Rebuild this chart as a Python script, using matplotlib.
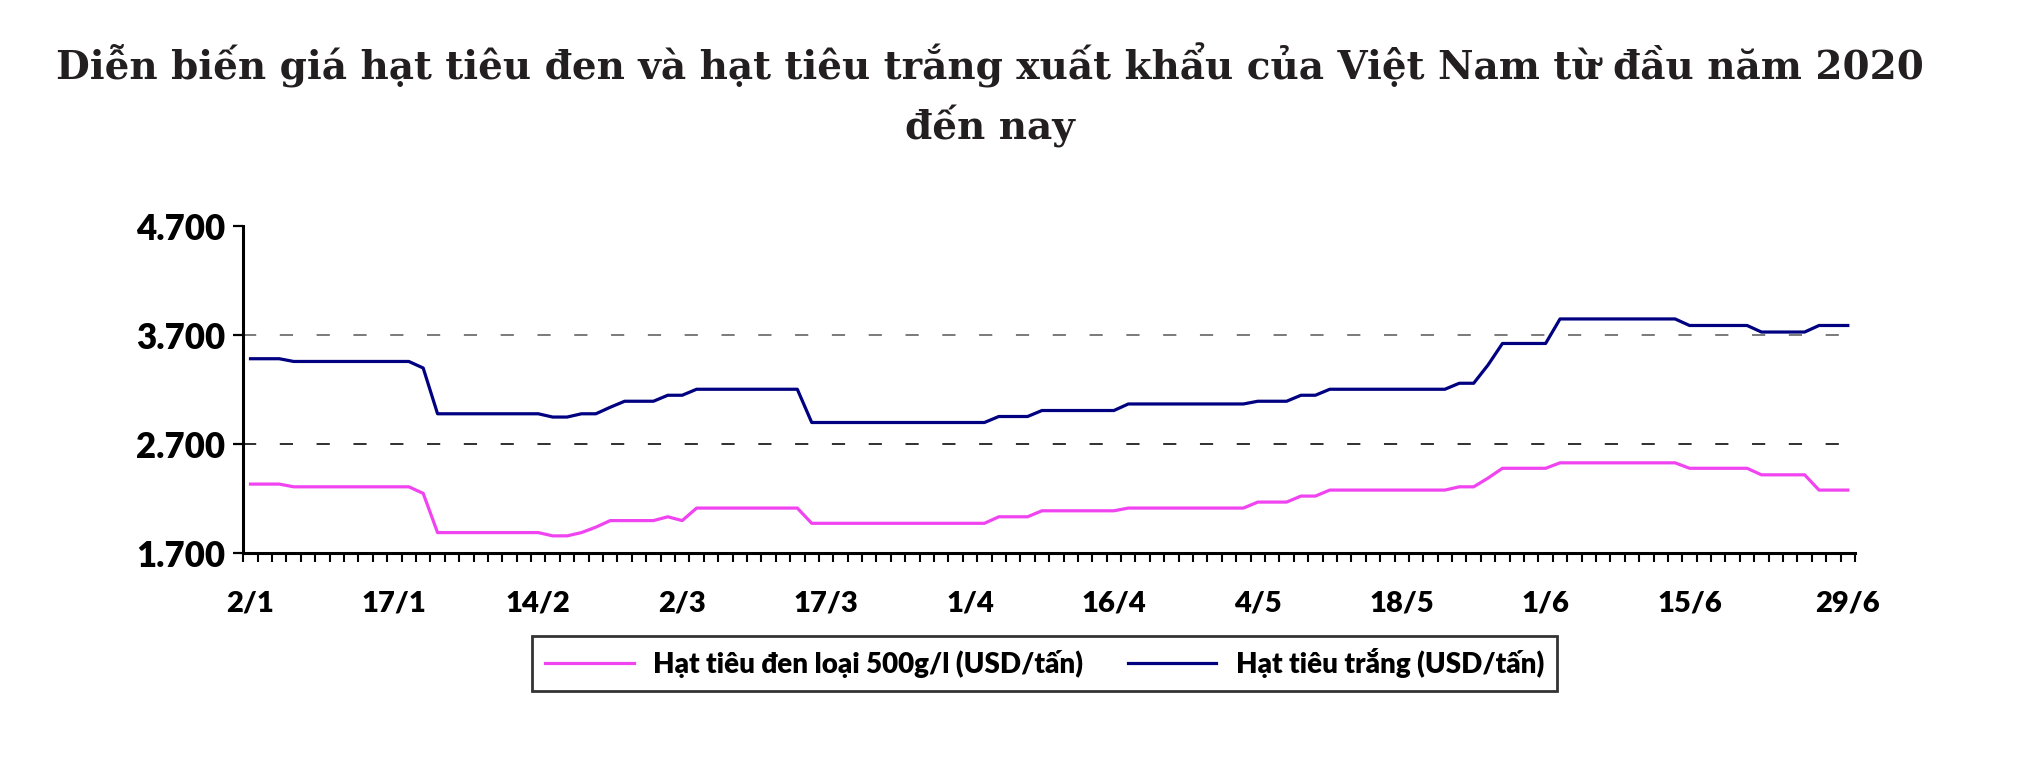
import numpy as np
import matplotlib
matplotlib.use("Agg")
import matplotlib.pyplot as plt
from matplotlib.ticker import FuncFormatter

plt.rcParams['lines.scale_dashes'] = False

# ---- data ----
title_line1 = "Diễn biến giá hạt tiêu đen và hạt tiêu trắng xuất khẩu của Việt Nam từ đầu năm 2020"
title_line2 = "đến nay"
series_names = ["Hạt tiêu đen loại 500g/l (USD/tấn)", "Hạt tiêu trắng (USD/tấn)"]

# value runs (value, number of consecutive trading days)
black_runs = [(2335, 3), (2310, 9), (2250, 1), (1890, 8), (1860, 2), (1890, 1), (1940, 1),
              (2000, 4), (2035, 1), (2000, 1), (2115, 8), (1975, 13), (2035, 3), (2090, 6),
              (2115, 9), (2170, 3), (2225, 2), (2280, 9), (2310, 2), (2390, 1), (2480, 4),
              (2530, 9), (2480, 5), (2420, 4), (2280, 3)]
white_runs = [(3485, 3), (3460, 9), (3400, 1), (2980, 8), (2950, 2), (2980, 2), (3040, 1),
              (3095, 3), (3150, 2), (3205, 8), (2900, 13), (2955, 3), (3010, 6), (3070, 9),
              (3095, 3), (3150, 2), (3205, 9), (3260, 2), (3428, 1), (3625, 4), (3850, 9),
              (3790, 5), (3730, 4), (3790, 3)]
black_pepper = [v for v, n in black_runs for _ in range(n)]
white_pepper = [v for v, n in white_runs for _ in range(n)]

tick_label_index = [0, 10, 20, 30, 40, 50, 60, 70, 80, 90, 100, 111]
tick_labels = ["2/1", "17/1", "14/2", "2/3", "17/3", "1/4", "16/4", "4/5", "18/5", "1/6", "15/6", "29/6"]
y_ticks = [1700, 2700, 3700, 4700]

# ---- figure ----
W, H = 2028, 760
fig = plt.figure(figsize=(W / 100, H / 100), dpi=100)
fig.patch.set_facecolor("white")

ax = fig.add_axes([243.3 / W, 1 - 553.3 / H, (1855 - 243.3) / W, (553.3 - 226.3) / H])

n = len(white_pepper)
x = np.arange(n)
l1, = ax.plot(x, black_pepper, color="#F044F0", lw=2.3, solid_joinstyle="round")
l2, = ax.plot(x, white_pepper, color="#000080", lw=2.3, solid_joinstyle="round")

ax.set_xlim(-0.5, n - 0.5)
ax.set_ylim(1700, 4700)

# dashed gridlines
ax.axhline(3700, color="#707070", lw=1.3, dashes=(9.5, 17), zorder=0)
ax.axhline(2700, color="#202020", lw=1.3, dashes=(9.5, 17), zorder=0)

for s in ["top", "right"]:
    ax.spines[s].set_visible(False)
for s in ["left", "bottom"]:
    ax.spines[s].set_linewidth(2.2)
    ax.spines[s].set_color("black")

# y axis
ax.set_yticks(y_ticks)
ax.yaxis.set_major_formatter(FuncFormatter(lambda v, p: f"{int(v):,}".replace(",", ".")))
ax.tick_params(axis="y", which="major", direction="out", length=7, width=1.6, pad=6,
               labelsize=25)
for t in ax.get_yticklabels():
    t.set_fontfamily("Lato")
    t.set_fontweight("heavy")

# x axis: tick marks at category boundaries, labels at category centres
ax.set_xticks(np.arange(n + 1) - 0.5)
ax.set_xticklabels([])
ax.tick_params(axis="x", which="major", direction="out", length=6.5, width=1.5)
ax.set_xticks(tick_label_index, minor=True)
ax.set_xticklabels(tick_labels, minor=True, fontfamily="Lato", fontweight="heavy", fontsize=21)
ax.tick_params(axis="x", which="minor", length=0, pad=27)

# title
title_color = "#231F20"
fig.text(0.488, 1 - 80 / H, title_line1, ha="center", va="baseline", color=title_color,
         fontfamily="DejaVu Serif", fontweight="bold", fontsize=28)
fig.text(0.488, 1 - 140 / H, title_line2, ha="center", va="baseline", color=title_color,
         fontfamily="DejaVu Serif", fontweight="bold", fontsize=28)

# legend
leg = fig.legend([l1, l2], series_names, loc="center",
                 bbox_to_anchor=(1044.5 / W, 1 - 663 / H), ncol=2, frameon=True,
                 fancybox=False, edgecolor="black", handlelength=3.2, columnspacing=1.6,
                 handletextpad=0.7, borderpad=0.45,
                 prop={"family": "Lato", "weight": "heavy", "size": 20})
leg.get_frame().set_linewidth(2.0)

fig.savefig("out.png", dpi=100, facecolor="white")
